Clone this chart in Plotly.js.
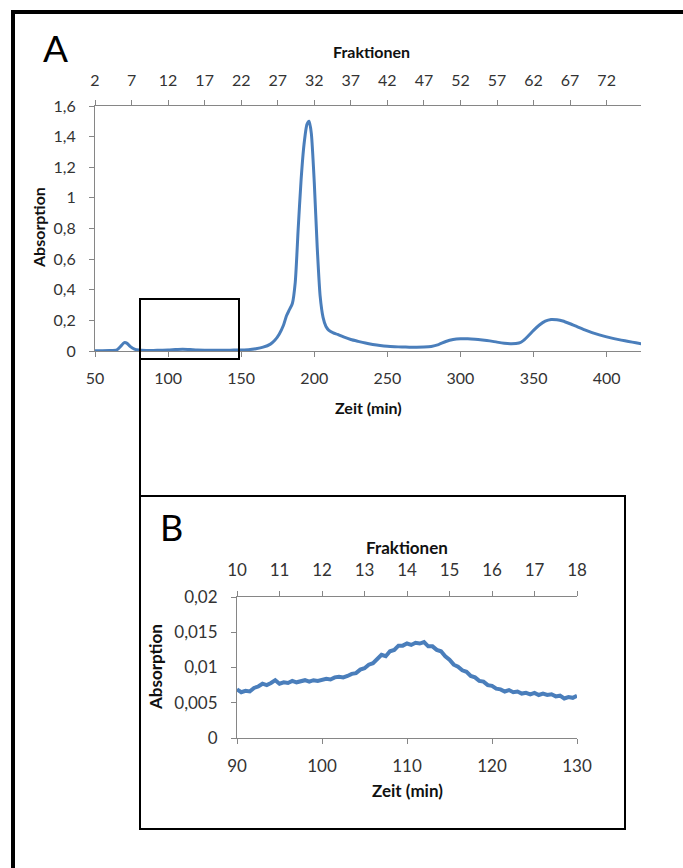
<!DOCTYPE html>
<html>
<head>
<meta charset="utf-8">
<script src="https://cdn.plot.ly/plotly-3.0.1.min.js"></script>
<style>
html,body{margin:0;padding:0;background:#fff;}
#chart{width:683px;height:868px;}
</style>
</head>
<body>
<div id="chart"></div>
<script>
// ---------- Panel A: full chromatogram ----------
const timeA = [50,55,60,65,68,70,72,74,77,80,85,90,95,100,105,110,115,120,125,130,135,140,145,150,155,160,165,170,173,176,179,181,183,185,187,189,191,193,195,196.5,198,200,202,204,206,208,210,213,216,220,225,230,235,240,245,250,255,260,265,270,275,280,285,290,295,300,305,310,315,320,325,330,335,340,343,346,350,354,358,362,366,370,375,380,385,390,395,400,405,410,415,420,424];
const absA = [0.002,0.002,0.003,0.008,0.035,0.055,0.05,0.03,0.012,0.006,0.004,0.004,0.005,0.006,0.009,0.011,0.009,0.006,0.005,0.005,0.005,0.005,0.006,0.007,0.009,0.015,0.025,0.045,0.07,0.11,0.17,0.23,0.27,0.31,0.45,0.8,1.12,1.35,1.48,1.5,1.42,1.1,0.68,0.36,0.22,0.16,0.135,0.118,0.108,0.092,0.075,0.063,0.052,0.043,0.036,0.031,0.028,0.026,0.025,0.025,0.026,0.03,0.042,0.062,0.075,0.08,0.08,0.077,0.072,0.066,0.058,0.051,0.047,0.052,0.068,0.095,0.135,0.17,0.195,0.206,0.204,0.196,0.178,0.158,0.138,0.12,0.105,0.092,0.081,0.071,0.062,0.054,0.047];

// ---------- Panel B: zoom 90-130 min ----------
const timeB = [90,90.5,91,91.5,92,92.5,93,93.5,94,94.5,95,95.5,96,96.5,97,97.5,98,98.5,99,99.5,100,100.5,101,101.5,102,102.5,103,103.5,104,104.5,105,105.5,106,106.5,107,107.5,108,108.5,109,109.5,110,110.5,111,111.5,112,112.5,113,113.5,114,114.5,115,115.5,116,116.5,117,117.5,118,118.5,119,119.5,120,120.5,121,121.5,122,122.5,123,123.5,124,124.5,125,125.5,126,126.5,127,127.5,128,128.5,129,129.5,130];
const absB = [0.0069,0.0065,0.0067,0.0066,0.0071,0.0073,0.0077,0.0075,0.0078,0.0082,0.0077,0.0079,0.0078,0.0081,0.0079,0.0080,0.0082,0.0080,0.0082,0.0081,0.0083,0.0084,0.0083,0.0086,0.0087,0.0086,0.0088,0.0091,0.0092,0.0097,0.0099,0.0104,0.0106,0.0112,0.0118,0.0116,0.0123,0.0125,0.0131,0.0131,0.0134,0.0132,0.0135,0.0134,0.0136,0.0130,0.0130,0.0125,0.0123,0.0116,0.0111,0.0104,0.0101,0.0096,0.0094,0.0088,0.0086,0.0081,0.0080,0.0075,0.0074,0.0070,0.0069,0.0066,0.0068,0.0065,0.0066,0.0063,0.0064,0.0062,0.0064,0.0061,0.0063,0.0061,0.0062,0.0059,0.0060,0.0056,0.0058,0.0057,0.0060];

// Axis labels
const xTitle = "Zeit (min)";
const yTitle = "Absorption";
const fracTitle = "Fraktionen";
const panelLabels = ["A", "B"];

// fraction numbering: 5 min per fraction, fraction 2 starts at 50 min
const minPerFraction = 5;
const fracAtStart = 2;
const toFraction = t => fracAtStart + (t - 50) / minPerFraction;

const W = 683, H = 868;
const px = x => x / W;
const py = y => 1 - y / H;

const lineColor = "#4A7EBB";
const axisGray = "#868686";
const tickText = "#333333";
const FONT = "Lato, 'Open Sans', sans-serif";

const rangeA = [50, 423.5];
const rangeB = [90, 130];

function axisStyle(size, extra) {
  return Object.assign({
    showgrid: false, zeroline: false, showline: true, linecolor: axisGray, linewidth: 1,
    ticks: "outside", ticklen: 5, tickcolor: axisGray, tickwidth: 1,
    tickfont: {family: FONT, size: size, color: tickText},
    fixedrange: true
  }, extra);
}

const traces = [
  {x: timeA, y: absA, xaxis: "x", yaxis: "y", type: "scatter", mode: "lines",
   line: {color: lineColor, width: 3, shape: "spline", smoothing: 0.6}, hoverinfo: "skip", showlegend: false},
  {x: [], y: [], xaxis: "x2", yaxis: "y", type: "scatter", mode: "lines", hoverinfo: "skip", showlegend: false},
  {x: timeB, y: absB, xaxis: "x3", yaxis: "y2", type: "scatter", mode: "lines",
   line: {color: lineColor, width: 4}, hoverinfo: "skip", showlegend: false},
  {x: [], y: [], xaxis: "x4", yaxis: "y2", type: "scatter", mode: "lines", hoverinfo: "skip", showlegend: false}
];

const titleFontA = {family: FONT, size: 16, color: "#111111", weight: "bold"};
const titleFontB = {family: FONT, size: 17, color: "#111111", weight: "bold"};

const layout = {
  width: W, height: H,
  margin: {l: 0, r: 0, t: 0, b: 0},
  paper_bgcolor: "#fff", plot_bgcolor: "rgba(0,0,0,0)",
  separators: ", ",
  showlegend: false,
  xaxis: axisStyle(16, {domain: [px(95), px(641)], anchor: "y", range: rangeA, tick0: 50, dtick: 50, ticklabelstandoff: 8}),
  xaxis2: axisStyle(16, {overlaying: "x", side: "top", anchor: "y", range: rangeA.map(toFraction), tick0: 2, dtick: 5, ticklabelstandoff: 8}),
  yaxis: axisStyle(16, {domain: [py(351), py(106)], anchor: "x", range: [0, 1.6], dtick: 0.2, ticklabelstandoff: 10}),
  xaxis3: axisStyle(17, {domain: [px(237), px(577)], anchor: "y2", range: rangeB, tick0: 90, dtick: 10, ticklabelstandoff: 8}),
  xaxis4: axisStyle(17, {overlaying: "x3", side: "top", anchor: "y2", range: rangeB.map(toFraction), tick0: 10, dtick: 1, ticklabelstandoff: 8}),
  yaxis2: axisStyle(17, {domain: [py(738), py(597)], anchor: "x3", range: [0, 0.02], dtick: 0.005, ticklabelstandoff: 10}),
  annotations: [
    {text: panelLabels[0], xref: "paper", yref: "paper", x: px(55), y: py(48), showarrow: false,
     font: {family: FONT, size: 37, color: "#000"}, xanchor: "center", yanchor: "middle"},
    {text: panelLabels[1], xref: "paper", yref: "paper", x: px(171), y: py(527), showarrow: false,
     font: {family: FONT, size: 36, color: "#000"}, xanchor: "center", yanchor: "middle"},
    {text: fracTitle, xref: "paper", yref: "paper", x: px(371), y: py(52), showarrow: false, font: titleFontA, xanchor: "center", yanchor: "middle"},
    {text: xTitle, xref: "paper", yref: "paper", x: px(368), y: py(408), showarrow: false, font: titleFontA, xanchor: "center", yanchor: "middle"},
    {text: yTitle, xref: "paper", yref: "paper", x: px(39), y: py(228), showarrow: false, font: titleFontA, textangle: -90, xanchor: "center", yanchor: "middle"},
    {text: fracTitle, xref: "paper", yref: "paper", x: px(407), y: py(547), showarrow: false, font: titleFontB, xanchor: "center", yanchor: "middle"},
    {text: xTitle, xref: "paper", yref: "paper", x: px(407), y: py(790), showarrow: false, font: titleFontB, xanchor: "center", yanchor: "middle"},
    {text: yTitle, xref: "paper", yref: "paper", x: px(155), y: py(667), showarrow: false, font: titleFontB, textangle: -90, xanchor: "center", yanchor: "middle"}
  ],
  shapes: [
    // outer frame (left & top)
    {type: "line", xref: "paper", yref: "paper", x0: px(13), x1: px(13), y0: py(10), y1: 0, line: {color: "#000", width: 4}},
    {type: "line", xref: "paper", yref: "paper", x0: px(11), x1: 1, y0: py(12), y1: py(12), line: {color: "#000", width: 4}},
    // inset marker in A
    {type: "rect", xref: "paper", yref: "paper", x0: px(140), x1: px(239), y0: py(359), y1: py(299), line: {color: "#000", width: 2}},
    // connector
    {type: "line", xref: "paper", yref: "paper", x0: px(140), x1: px(140), y0: py(359), y1: py(496), line: {color: "#000", width: 2}},
    // panel B box
    {type: "rect", xref: "paper", yref: "paper", x0: px(140), x1: px(625), y0: py(829), y1: py(496), line: {color: "#000", width: 2}}
  ]
};

Plotly.newPlot("chart", traces, layout, {staticPlot: true, displayModeBar: false});
</script>
</body>
</html>
